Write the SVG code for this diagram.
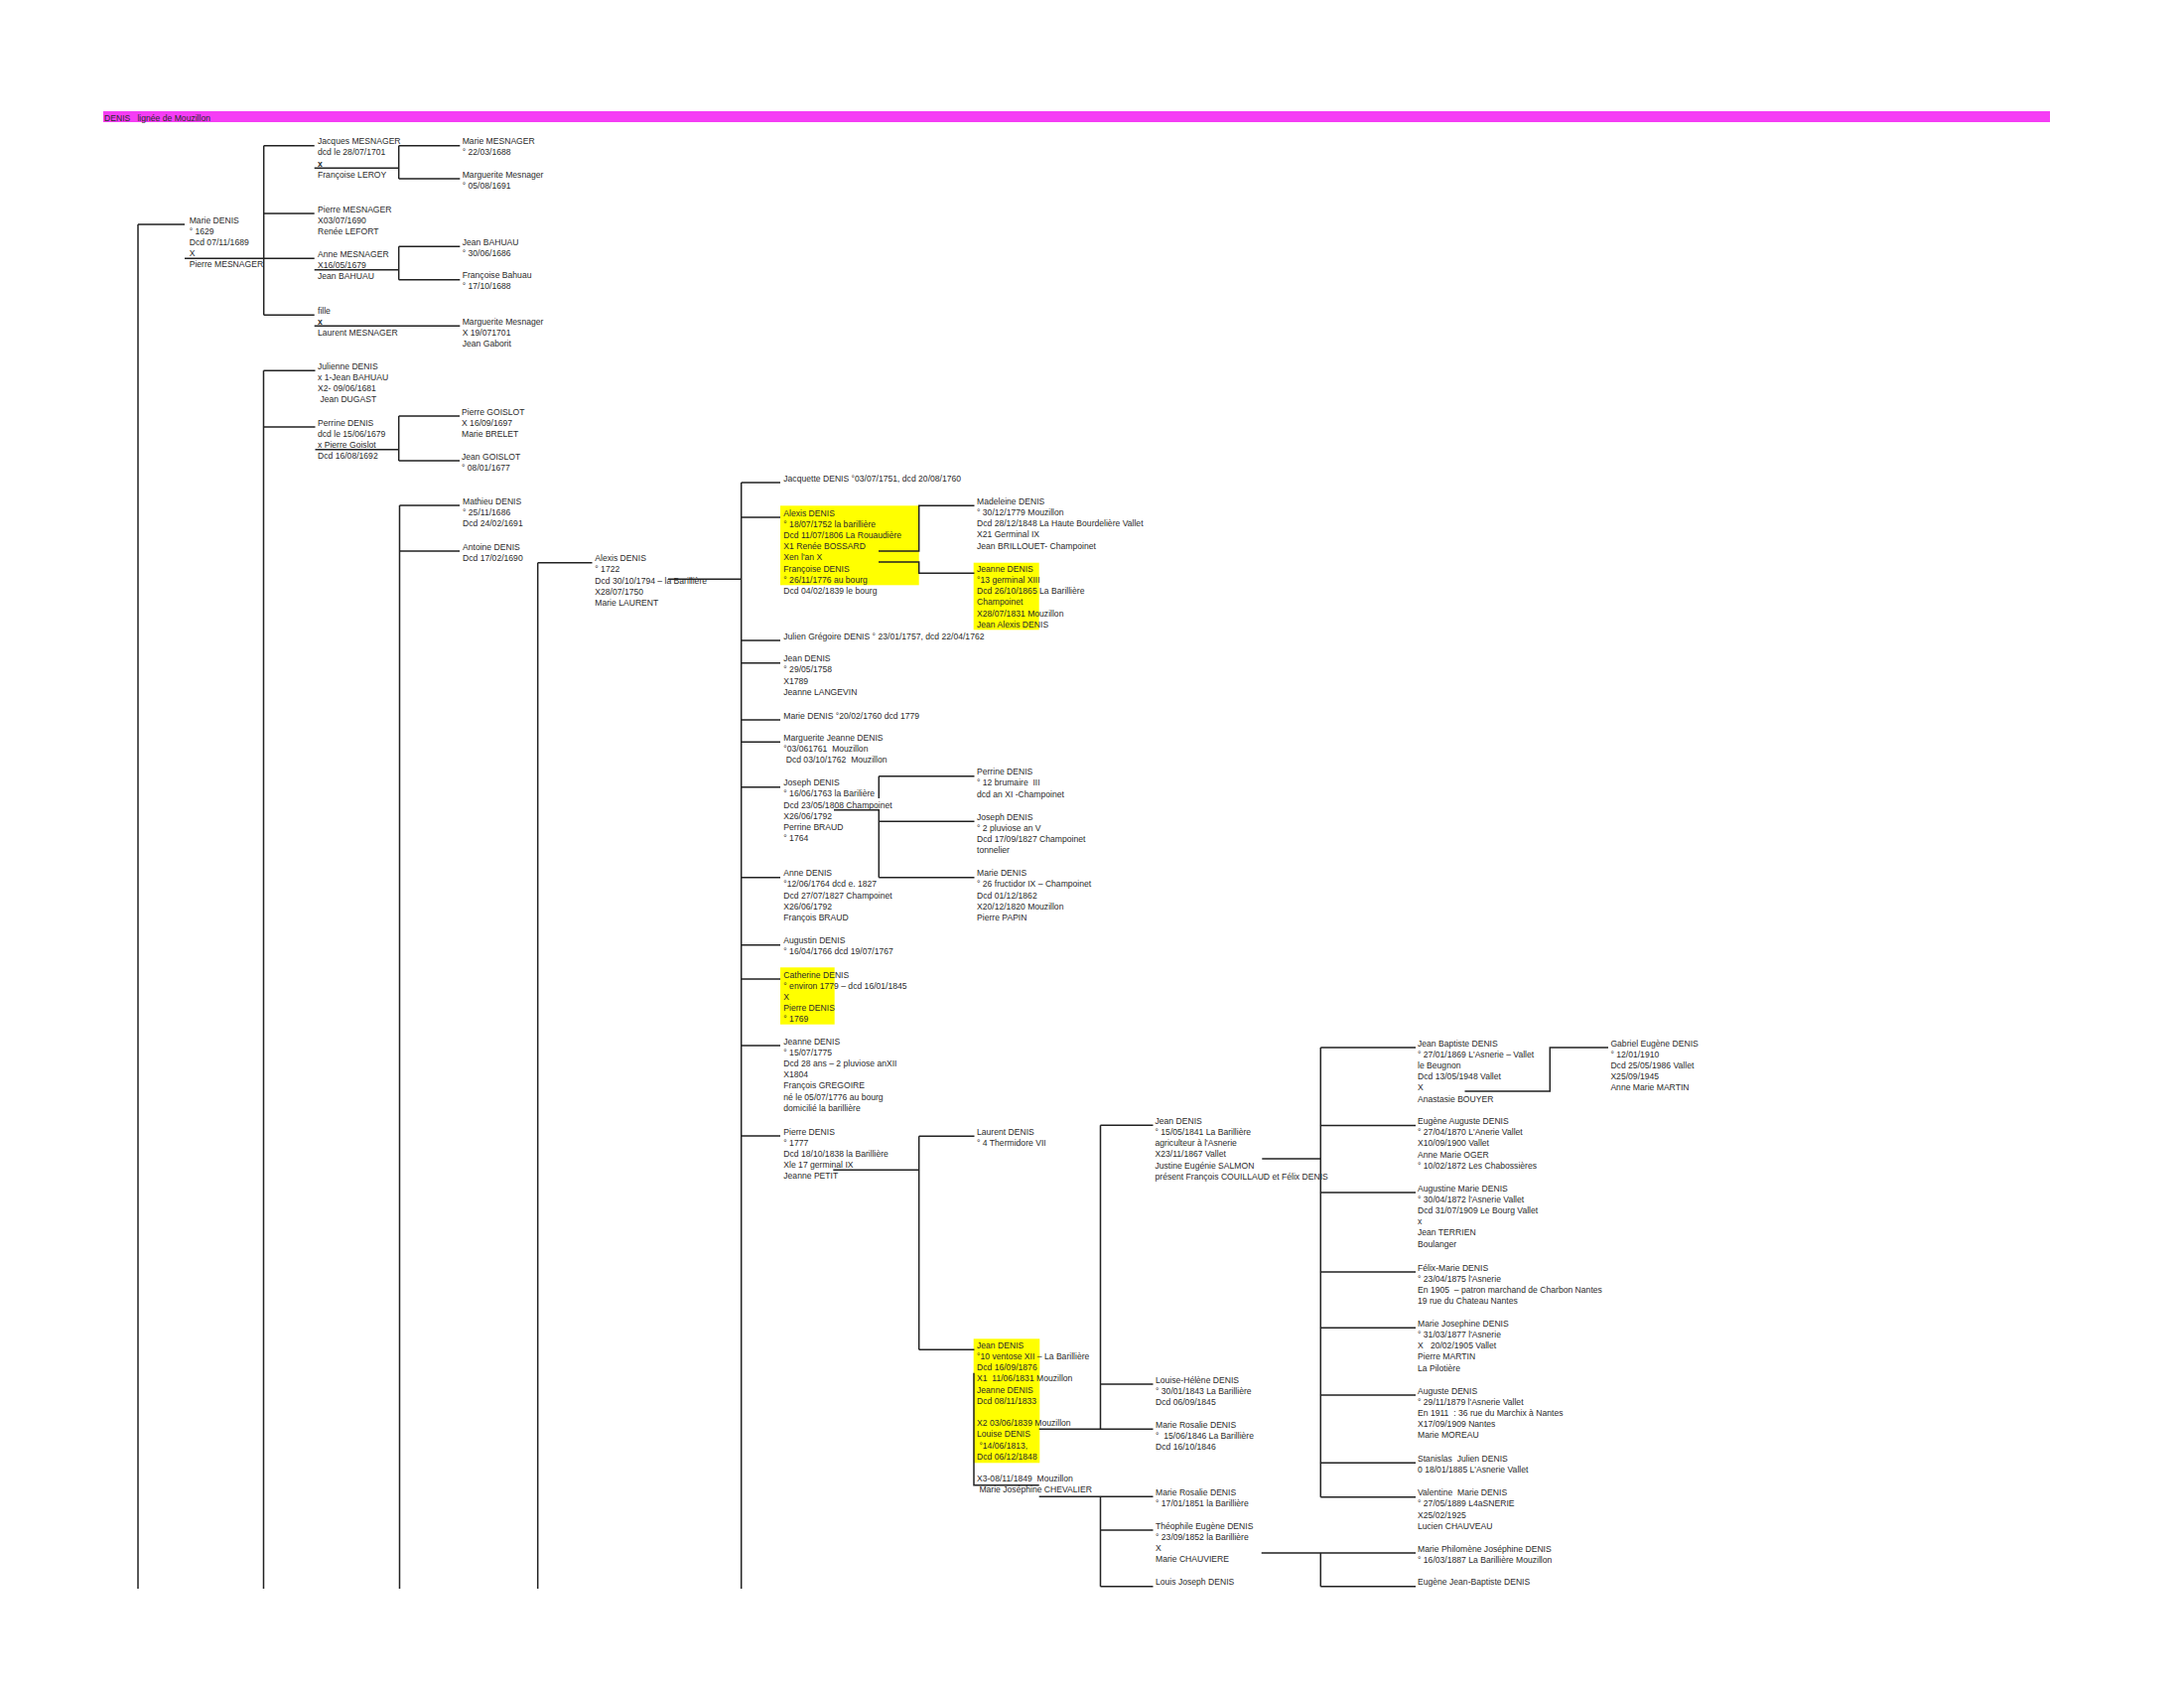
<svg xmlns="http://www.w3.org/2000/svg" width="2200" height="1700" viewBox="0 0 2200 1700">
<style>
.t{font-family:"Liberation Sans",Arial,sans-serif;font-size:8.6px;fill:#2a2a2a;white-space:pre}
.b{font-weight:bold}
.hl{fill:#ffff00}
#connectors path{stroke:#222;stroke-width:1.5;fill:none}
</style>
<rect width="2200" height="1700" fill="#fff"/>
<g id="header">
<rect x="104" y="112" width="1961" height="11" fill="#f53df5"/>
<text class="t" x="105" y="121.5">DENIS   lignée de Mouzillon</text>
</g>
<g id="n_marie_denis"><text class="t" y="224.5"><tspan x="190.7">Marie DENIS</tspan><tspan x="190.7" dy="11.2">° 1629</tspan><tspan x="190.7" dy="11.2">Dcd 07/11/1689</tspan><tspan x="190.7" dy="11.2">X</tspan><tspan x="190.7" dy="11.2">Pierre MESNAGER</tspan></text></g>
<g id="n_jacques_mesnager"><text class="t" y="145.2"><tspan x="320">Jacques MESNAGER</tspan><tspan x="320" dy="11.2">dcd le 28/07/1701</tspan><tspan x="320" dy="11.2" class="b">x</tspan><tspan x="320" dy="11.2">Françoise LEROY</tspan></text></g>
<g id="n_marie_mesnager"><text class="t" y="145.2"><tspan x="465.7">Marie MESNAGER</tspan><tspan x="465.7" dy="11.2">° 22/03/1688</tspan></text></g>
<g id="n_marguerite_mesnager1"><text class="t" y="178.5"><tspan x="465.7">Marguerite Mesnager</tspan><tspan x="465.7" dy="11.2">° 05/08/1691</tspan></text></g>
<g id="n_pierre_mesnager"><text class="t" y="213.5"><tspan x="320">Pierre MESNAGER</tspan><tspan x="320" dy="11.2">X03/07/1690</tspan><tspan x="320" dy="11.2">Renée LEFORT</tspan></text></g>
<g id="n_anne_mesnager"><text class="t" y="258.5"><tspan x="320">Anne MESNAGER</tspan><tspan x="320" dy="11.2">X16/05/1679</tspan><tspan x="320" dy="11.2">Jean BAHUAU</tspan></text></g>
<g id="n_jean_bahuau"><text class="t" y="246.8"><tspan x="465.7">Jean BAHUAU</tspan><tspan x="465.7" dy="11.2">° 30/06/1686</tspan></text></g>
<g id="n_francoise_bahuau"><text class="t" y="280.2"><tspan x="465.7">Françoise Bahuau</tspan><tspan x="465.7" dy="11.2">° 17/10/1688</tspan></text></g>
<g id="n_fille"><text class="t" y="315.8"><tspan x="320">fille</tspan><tspan x="320" dy="11.2" class="b">x</tspan><tspan x="320" dy="11.2">Laurent MESNAGER</tspan></text></g>
<g id="n_marguerite_mesnager2"><text class="t" y="326.8"><tspan x="465.7">Marguerite Mesnager</tspan><tspan x="465.7" dy="11.2">X 19/071701</tspan><tspan x="465.7" dy="11.2">Jean Gaborit</tspan></text></g>
<g id="n_julienne"><text class="t" y="371.8"><tspan x="320">Julienne DENIS</tspan><tspan x="320" dy="11.2">x 1-Jean BAHUAU</tspan><tspan x="320" dy="11.2">X2- 09/06/1681</tspan><tspan x="320" dy="11.2"> Jean DUGAST</tspan></text></g>
<g id="n_perrine"><text class="t" y="428.5"><tspan x="320">Perrine DENIS</tspan><tspan x="320" dy="11.2">dcd le 15/06/1679</tspan><tspan x="320" dy="11.2">x Pierre Goislot</tspan><tspan x="320" dy="11.2">Dcd 16/08/1692</tspan></text></g>
<g id="n_pierre_goislot"><text class="t" y="417.5"><tspan x="465">Pierre GOISLOT</tspan><tspan x="465" dy="11.2">X 16/09/1697</tspan><tspan x="465" dy="11.2">Marie BRELET</tspan></text></g>
<g id="n_jean_goislot"><text class="t" y="462.5"><tspan x="465">Jean GOISLOT</tspan><tspan x="465" dy="11.2">° 08/01/1677</tspan></text></g>
<g id="n_mathieu"><text class="t" y="507.5"><tspan x="466">Mathieu DENIS</tspan><tspan x="466" dy="11.2">° 25/11/1686</tspan><tspan x="466" dy="11.2">Dcd 24/02/1691</tspan></text></g>
<g id="n_antoine"><text class="t" y="553.5"><tspan x="466">Antoine DENIS</tspan><tspan x="466" dy="11.2">Dcd 17/02/1690</tspan></text></g>
<g id="n_alexis_1722"><text class="t" y="565.2"><tspan x="599.3">Alexis DENIS</tspan><tspan x="599.3" dy="11.2">° 1722</tspan><tspan x="599.3" dy="11.2">Dcd 30/10/1794 – la Barillière</tspan><tspan x="599.3" dy="11.2">X28/07/1750</tspan><tspan x="599.3" dy="11.2">Marie LAURENT</tspan></text></g>
<g id="n_jacquette"><text class="t" x="789.3" y="484.5">Jacquette DENIS °03/07/1751, dcd 20/08/1760</text></g>
<g id="n_alexis_1752"><rect class="hl" x="786" y="509.3" width="139.7" height="80"/><text class="t" y="519.5"><tspan x="789.3">Alexis DENIS</tspan><tspan x="789.3" dy="11.2">° 18/07/1752 la barillière</tspan><tspan x="789.3" dy="11.2">Dcd 11/07/1806 La Rouaudière</tspan><tspan x="789.3" dy="11.2">X1 Renée BOSSARD</tspan><tspan x="789.3" dy="11.2">Xen l'an X</tspan><tspan x="789.3" dy="11.2">Françoise DENIS</tspan><tspan x="789.3" dy="11.2">° 26/11/1776 au bourg</tspan><tspan x="789.3" dy="11.2">Dcd 04/02/1839 le bourg</tspan></text></g>
<g id="n_madeleine"><text class="t" y="507.8"><tspan x="984">Madeleine DENIS</tspan><tspan x="984" dy="11.2">° 30/12/1779 Mouzillon</tspan><tspan x="984" dy="11.2">Dcd 28/12/1848 La Haute Bourdelière Vallet</tspan><tspan x="984" dy="11.2">X21 Germinal IX</tspan><tspan x="984" dy="11.2">Jean BRILLOUET- Champoinet</tspan></text></g>
<g id="n_jeanne_xiii"><rect class="hl" x="980.7" y="566.7" width="66" height="67.6"/><text class="t" y="575.8"><tspan x="984">Jeanne DENIS</tspan><tspan x="984" dy="11.2">°13 germinal XIII</tspan><tspan x="984" dy="11.2">Dcd 26/10/1865 La Barillière</tspan><tspan x="984" dy="11.2">Champoinet</tspan><tspan x="984" dy="11.2">X28/07/1831 Mouzillon</tspan><tspan x="984" dy="11.2">Jean Alexis DENIS</tspan></text></g>
<g id="n_julien_gregoire"><text class="t" x="789.3" y="643.5">Julien Grégoire DENIS ° 23/01/1757, dcd 22/04/1762</text></g>
<g id="n_jean_1758"><text class="t" y="666.2"><tspan x="789.3">Jean DENIS</tspan><tspan x="789.3" dy="11.2">° 29/05/1758</tspan><tspan x="789.3" dy="11.2">X1789</tspan><tspan x="789.3" dy="11.2">Jeanne LANGEVIN</tspan></text></g>
<g id="n_marie_1760"><text class="t" x="789.3" y="723.5">Marie DENIS °20/02/1760 dcd 1779</text></g>
<g id="n_marguerite_jeanne"><text class="t" y="745.8"><tspan x="789.3">Marguerite Jeanne DENIS</tspan><tspan x="789.3" dy="11.2">°03/061761  Mouzillon</tspan><tspan x="789.3" dy="11.2"> Dcd 03/10/1762  Mouzillon</tspan></text></g>
<g id="n_joseph_1763"><text class="t" y="791.2"><tspan x="789.3">Joseph DENIS</tspan><tspan x="789.3" dy="11.2">° 16/06/1763 la Barilière</tspan><tspan x="789.3" dy="11.2">Dcd 23/05/1808 Champoinet</tspan><tspan x="789.3" dy="11.2">X26/06/1792</tspan><tspan x="789.3" dy="11.2">Perrine BRAUD</tspan><tspan x="789.3" dy="11.2">° 1764</tspan></text></g>
<g id="n_perrine_iii"><text class="t" y="780.2"><tspan x="984">Perrine DENIS</tspan><tspan x="984" dy="11.2">° 12 brumaire  III</tspan><tspan x="984" dy="11.2">dcd an XI -Champoinet</tspan></text></g>
<g id="n_joseph_v"><text class="t" y="825.8"><tspan x="984">Joseph DENIS</tspan><tspan x="984" dy="11.2">° 2 pluviose an V</tspan><tspan x="984" dy="11.2">Dcd 17/09/1827 Champoinet</tspan><tspan x="984" dy="11.2">tonnelier</tspan></text></g>
<g id="n_anne_1764"><text class="t" y="882.2"><tspan x="789.3">Anne DENIS</tspan><tspan x="789.3" dy="11.2">°12/06/1764 dcd e. 1827</tspan><tspan x="789.3" dy="11.2">Dcd 27/07/1827 Champoinet</tspan><tspan x="789.3" dy="11.2">X26/06/1792</tspan><tspan x="789.3" dy="11.2">François BRAUD</tspan></text></g>
<g id="n_marie_ix"><text class="t" y="882.2"><tspan x="984">Marie DENIS</tspan><tspan x="984" dy="11.2">° 26 fructidor IX – Champoinet</tspan><tspan x="984" dy="11.2">Dcd 01/12/1862</tspan><tspan x="984" dy="11.2">X20/12/1820 Mouzillon</tspan><tspan x="984" dy="11.2">Pierre PAPIN</tspan></text></g>
<g id="n_augustin"><text class="t" y="950.2"><tspan x="789.3">Augustin DENIS</tspan><tspan x="789.3" dy="11.2">° 16/04/1766 dcd 19/07/1767</tspan></text></g>
<g id="n_catherine"><rect class="hl" x="786" y="974.3" width="54.7" height="57.4"/><text class="t" y="984.5"><tspan x="789.3">Catherine DENIS</tspan><tspan x="789.3" dy="11.2">° environ 1779 – dcd 16/01/1845</tspan><tspan x="789.3" dy="11.2">X</tspan><tspan x="789.3" dy="11.2">Pierre DENIS</tspan><tspan x="789.3" dy="11.2">° 1769</tspan></text></g>
<g id="n_jeanne_1775"><text class="t" y="1051.5"><tspan x="789.3">Jeanne DENIS</tspan><tspan x="789.3" dy="11.2">° 15/07/1775</tspan><tspan x="789.3" dy="11.2">Dcd 28 ans – 2 pluviose anXII</tspan><tspan x="789.3" dy="11.2">X1804</tspan><tspan x="789.3" dy="11.2">François GREGOIRE</tspan><tspan x="789.3" dy="11.2">né le 05/07/1776 au bourg</tspan><tspan x="789.3" dy="11.2">domicilié la barillière</tspan></text></g>
<g id="n_pierre_1777"><text class="t" y="1142.5"><tspan x="789.3">Pierre DENIS</tspan><tspan x="789.3" dy="11.2">° 1777</tspan><tspan x="789.3" dy="11.2">Dcd 18/10/1838 la Barillière</tspan><tspan x="789.3" dy="11.2">Xle 17 germinal IX</tspan><tspan x="789.3" dy="11.2">Jeanne PETIT</tspan></text></g>
<g id="n_laurent"><text class="t" y="1142.8"><tspan x="984">Laurent DENIS</tspan><tspan x="984" dy="11.2">° 4 Thermidore VII</tspan></text></g>
<g id="n_jean_xii"><rect class="hl" x="980.7" y="1348.3" width="66.6" height="125"/><text class="t" y="1357.8"><tspan x="984">Jean DENIS</tspan><tspan x="984" dy="11.2">°10 ventose XII – La Barillière</tspan><tspan x="984" dy="11.2">Dcd 16/09/1876</tspan><tspan x="984" dy="11.2">X1  11/06/1831 Mouzillon</tspan><tspan x="984" dy="11.2">Jeanne DENIS</tspan><tspan x="984" dy="11.2">Dcd 08/11/1833</tspan><tspan x="984" dy="22.4">X2 03/06/1839 Mouzillon</tspan><tspan x="984" dy="11.2">Louise DENIS</tspan><tspan x="984" dy="11.2"> °14/06/1813,</tspan><tspan x="984" dy="11.2">Dcd 06/12/1848</tspan><tspan x="984" dy="22.4">X3-08/11/1849  Mouzillon</tspan><tspan x="984" dy="11.2"> Marie Joséphine CHEVALIER</tspan></text></g>
<g id="n_jean_1841"><text class="t" y="1131.8"><tspan x="1163.5">Jean DENIS</tspan><tspan x="1163.5" dy="11.2">° 15/05/1841 La Barillière</tspan><tspan x="1163.5" dy="11.2">agriculteur à l'Asnerie</tspan><tspan x="1163.5" dy="11.2">X23/11/1867 Vallet</tspan><tspan x="1163.5" dy="11.2">Justine Eugénie SALMON</tspan><tspan x="1163.5" dy="11.2">présent François COUILLAUD et Félix DENIS</tspan></text></g>
<g id="n_louise_helene"><text class="t" y="1392.5"><tspan x="1164">Louise-Hélène DENIS</tspan><tspan x="1164" dy="11.2">° 30/01/1843 La Barillière</tspan><tspan x="1164" dy="11.2">Dcd 06/09/1845</tspan></text></g>
<g id="n_marie_rosalie_1846"><text class="t" y="1437.8"><tspan x="1164">Marie Rosalie DENIS</tspan><tspan x="1164" dy="11.2">°  15/06/1846 La Barillière</tspan><tspan x="1164" dy="11.2">Dcd 16/10/1846</tspan></text></g>
<g id="n_marie_rosalie_1851"><text class="t" y="1505.8"><tspan x="1164">Marie Rosalie DENIS</tspan><tspan x="1164" dy="11.2">° 17/01/1851 la Barillière</tspan></text></g>
<g id="n_theophile"><text class="t" y="1539.5"><tspan x="1164">Théophile Eugène DENIS</tspan><tspan x="1164" dy="11.2">° 23/09/1852 la Barillière</tspan><tspan x="1164" dy="11.2">X</tspan><tspan x="1164" dy="11.2">Marie CHAUVIERE</tspan></text></g>
<g id="n_louis_joseph"><text class="t" x="1164" y="1596.2">Louis Joseph DENIS</text></g>
<g id="n_jean_baptiste"><text class="t" y="1053.5"><tspan x="1428">Jean Baptiste DENIS</tspan><tspan x="1428" dy="11.2">° 27/01/1869 L'Asnerie – Vallet</tspan><tspan x="1428" dy="11.2">le Beugnon</tspan><tspan x="1428" dy="11.2">Dcd 13/05/1948 Vallet</tspan><tspan x="1428" dy="11.2">X</tspan><tspan x="1428" dy="11.2">Anastasie BOUYER</tspan></text></g>
<g id="n_gabriel"><text class="t" y="1053.5"><tspan x="1622.4">Gabriel Eugène DENIS</tspan><tspan x="1622.4" dy="11.2">° 12/01/1910</tspan><tspan x="1622.4" dy="11.2">Dcd 25/05/1986 Vallet</tspan><tspan x="1622.4" dy="11.2">X25/09/1945</tspan><tspan x="1622.4" dy="11.2">Anne Marie MARTIN</tspan></text></g>
<g id="n_eugene_auguste"><text class="t" y="1132"><tspan x="1428">Eugène Auguste DENIS</tspan><tspan x="1428" dy="11.2">° 27/04/1870 L'Anerie Vallet</tspan><tspan x="1428" dy="11.2">X10/09/1900 Vallet</tspan><tspan x="1428" dy="11.2">Anne Marie OGER</tspan><tspan x="1428" dy="11.2">° 10/02/1872 Les Chabossières</tspan></text></g>
<g id="n_augustine"><text class="t" y="1199.5"><tspan x="1428">Augustine Marie DENIS</tspan><tspan x="1428" dy="11.2">° 30/04/1872 l'Asnerie Vallet</tspan><tspan x="1428" dy="11.2">Dcd 31/07/1909 Le Bourg Vallet</tspan><tspan x="1428" dy="11.2">x</tspan><tspan x="1428" dy="11.2">Jean TERRIEN</tspan><tspan x="1428" dy="11.2">Boulanger</tspan></text></g>
<g id="n_felix_marie"><text class="t" y="1279.5"><tspan x="1428">Félix-Marie DENIS</tspan><tspan x="1428" dy="11.2">° 23/04/1875 l'Asnerie</tspan><tspan x="1428" dy="11.2">En 1905  – patron marchand de Charbon Nantes</tspan><tspan x="1428" dy="11.2">19 rue du Chateau Nantes</tspan></text></g>
<g id="n_marie_josephine"><text class="t" y="1335.8"><tspan x="1428">Marie Josephine DENIS</tspan><tspan x="1428" dy="11.2">° 31/03/1877 l'Asnerie</tspan><tspan x="1428" dy="11.2">X   20/02/1905 Vallet</tspan><tspan x="1428" dy="11.2">Pierre MARTIN</tspan><tspan x="1428" dy="11.2">La Pilotière</tspan></text></g>
<g id="n_auguste"><text class="t" y="1403.5"><tspan x="1428">Auguste DENIS</tspan><tspan x="1428" dy="11.2">° 29/11/1879 l'Asnerie Vallet</tspan><tspan x="1428" dy="11.2">En 1911  : 36 rue du Marchix à Nantes</tspan><tspan x="1428" dy="11.2">X17/09/1909 Nantes</tspan><tspan x="1428" dy="11.2">Marie MOREAU</tspan></text></g>
<g id="n_stanislas"><text class="t" y="1471.8"><tspan x="1428">Stanislas  Julien DENIS</tspan><tspan x="1428" dy="11.2">0 18/01/1885 L'Asnerie Vallet</tspan></text></g>
<g id="n_valentine"><text class="t" y="1506.2"><tspan x="1428">Valentine  Marie DENIS</tspan><tspan x="1428" dy="11.2">° 27/05/1889 L4aSNERIE</tspan><tspan x="1428" dy="11.2">X25/02/1925</tspan><tspan x="1428" dy="11.2">Lucien CHAUVEAU</tspan></text></g>
<g id="n_marie_philomene"><text class="t" y="1562.5"><tspan x="1428">Marie Philomène Joséphine DENIS</tspan><tspan x="1428" dy="11.2">° 16/03/1887 La Barillière Mouzillon</tspan></text></g>
<g id="n_eugene_jean_baptiste"><text class="t" x="1428" y="1596.2">Eugène Jean-Baptiste DENIS</text></g>
<g id="connectors">
<path d="M139,226V1600M139,226H186M186,260.3H316.7"/>
<path d="M265.7,146.7V317.3M265.7,146.7H316.7M265.7,215H316.7M265.7,317.3H316.7"/>
<path d="M316.7,169.3H401.7M401.7,146.7V180M401.7,146.7H463.3M401.7,180H463.3"/>
<path d="M316.7,271.7H401.7M401.7,248.3V281.7M401.7,248.3H463.3M401.7,281.7H463.3"/>
<path d="M316.7,328.3H463.3"/>
<path d="M265.5,373.3V1600M265.5,373.3H317.5M265.5,430H317.5"/>
<path d="M317.5,452.7H401.7M401.7,419V464M401.7,419H463M401.7,464H463"/>
<path d="M402.5,509V1600M402.5,509H463M402.5,555H463"/>
<path d="M541.7,566.7V1600M541.7,566.7H596.5"/>
<path d="M673,583.3H746.7"/>
<path d="M746.7,486V1600M746.7,486H786M746.7,521H786M746.7,645H786M746.7,667.7H786M746.7,725H786M746.7,747.3H786M746.7,792.7H786M746.7,883.7H786M746.7,951.7H786M746.7,986H786M746.7,1053H786M746.7,1144H786"/>
<path d="M885,555H925.7V509.3H981.5M885,566H925.7V577.3H981.5"/>
<path d="M885.3,781.7V804M885.3,781.7H981.5M840,815.7H885.3V883.7M885.3,827.3H981.5M885.3,883.7H981.5"/>
<path d="M839.3,1178.3H925.7M925.7,1144.3V1359.3M925.7,1144.3H981.5M925.7,1359.3H981.5"/>
<path d="M981,1382.7V1495.7H1046.7M1046.7,1439.3H1161.5M1046.7,1507.3H1161.5"/>
<path d="M1108.5,1133.3V1439.3M1108.5,1133.3H1161.5M1108.5,1394H1161.5"/>
<path d="M1108.5,1507.3V1597.7M1108.5,1541H1161.5M1108.5,1597.7H1161.5"/>
<path d="M1271.3,1167H1330.3"/>
<path d="M1330.3,1055V1507.7M1330.3,1055H1426M1330.3,1133.5H1426M1330.3,1201H1426M1330.3,1281H1426M1330.3,1337.3H1426M1330.3,1405H1426M1330.3,1473.3H1426M1330.3,1507.7H1426"/>
<path d="M1475.5,1099H1561.3V1055H1620"/>
<path d="M1270.7,1564H1330.3V1597.7M1330.3,1564H1426M1330.3,1597.7H1426"/>
</g>
</svg>
